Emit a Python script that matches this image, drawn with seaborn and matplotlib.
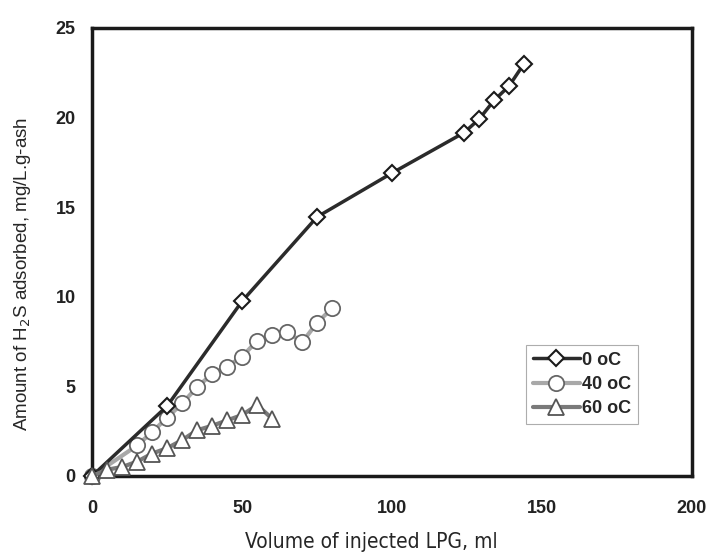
import matplotlib
matplotlib.use("Agg")
import matplotlib.pyplot as plt
import numpy as np
import pandas as pd
import seaborn as sns

# Volume of injected LPG (ml) and amount of H2S adsorbed (mg/L.g-ash)
x_0c = [0, 25, 50, 75, 100, 124, 129, 134, 139, 144]
y_0c = [0.0, 3.9, 9.75, 14.45, 16.9, 19.15, 19.9, 20.95, 21.75, 23.0]

x_40c = [0, 15, 20, 25, 30, 35, 40, 45, 50, 55, 60, 65, 70, 75, 80]
y_40c = [0.0, 1.7, 2.45, 3.25, 4.05, 4.95, 5.7, 6.1, 6.65, 7.55, 7.85, 8.05, 7.45, 8.55, 9.35]

x_60c = [0, 5, 10, 15, 20, 25, 30, 35, 40, 45, 50, 55, 60]
y_60c = [0.0, 0.35, 0.5, 0.8, 1.25, 1.55, 2.0, 2.55, 2.8, 3.1, 3.4, 3.95, 3.2]

labels = ["0 oC", "40 oC", "60 oC"]

sns.set_style("white")
plt.rcParams["font.family"] = ["Liberation Sans", "DejaVu Sans"]

fig = plt.figure(figsize=(7.09, 5.56), dpi=100)
ax = fig.add_axes([0.13, 0.144, 0.846, 0.806])

sns.lineplot(x=x_40c, y=y_40c, ax=ax, sort=False, color="#a8a8a8", linewidth=3,
             marker="o", markersize=11, markerfacecolor="white",
             markeredgecolor="#666666", markeredgewidth=1.3, label=labels[1],
             zorder=4, clip_on=False)
sns.lineplot(x=x_0c, y=y_0c, ax=ax, sort=False, color="#2b2b2b", linewidth=2.5,
             marker="D", markersize=8, markerfacecolor="white",
             markeredgecolor="#1a1a1a", markeredgewidth=1.5, label=labels[0],
             zorder=5, clip_on=False)
sns.lineplot(x=x_60c, y=y_60c, ax=ax, sort=False, color="#7a7a7a", linewidth=3,
             marker="^", markersize=11, markerfacecolor="white",
             markeredgecolor="#555555", markeredgewidth=1.3, label=labels[2],
             zorder=6, clip_on=False)

ax.set_xlim(0, 200)
ax.set_ylim(0, 25)
ax.set_xticks([0, 50, 100, 150, 200])
ax.set_yticks([0, 5, 10, 15, 20, 25])
ax.tick_params(direction="in", length=5, width=2, labelsize=13, colors="#222222")
ax.tick_params(axis="x", pad=17)
ax.tick_params(axis="y", pad=12)
for lab in ax.get_xticklabels() + ax.get_yticklabels():
    lab.set_fontweight("bold")

for sp in ax.spines.values():
    sp.set_visible(True)
    sp.set_linewidth(2.5)
    sp.set_color("#1a1a1a")

ax.set_xlabel("Volume of injected LPG, ml", fontsize=15, fontstretch="condensed",
              family=["DejaVu Sans"])
ax.xaxis.set_label_coords(0.465, -0.125)
ax.set_ylabel("Amount of H$_2$S adsorbed, mg/L.g-ash", fontsize=13.5)
ax.yaxis.set_label_coords(-0.098, 0.45)

handles, labs = ax.get_legend_handles_labels()
order = [labs.index(l) for l in labels]
leg = ax.legend([handles[i] for i in order], [labs[i] for i in order],
                loc="lower right", bbox_to_anchor=(0.91, 0.115),
                frameon=True, fancybox=False, edgecolor="#999999",
                handlelength=2.6, handletextpad=0.1, borderpad=0.4,
                labelspacing=0.4, borderaxespad=0.0,
                prop={"weight": "bold", "size": 13})
leg.get_frame().set_linewidth(0.8)

fig.savefig("out.png", dpi=100)
